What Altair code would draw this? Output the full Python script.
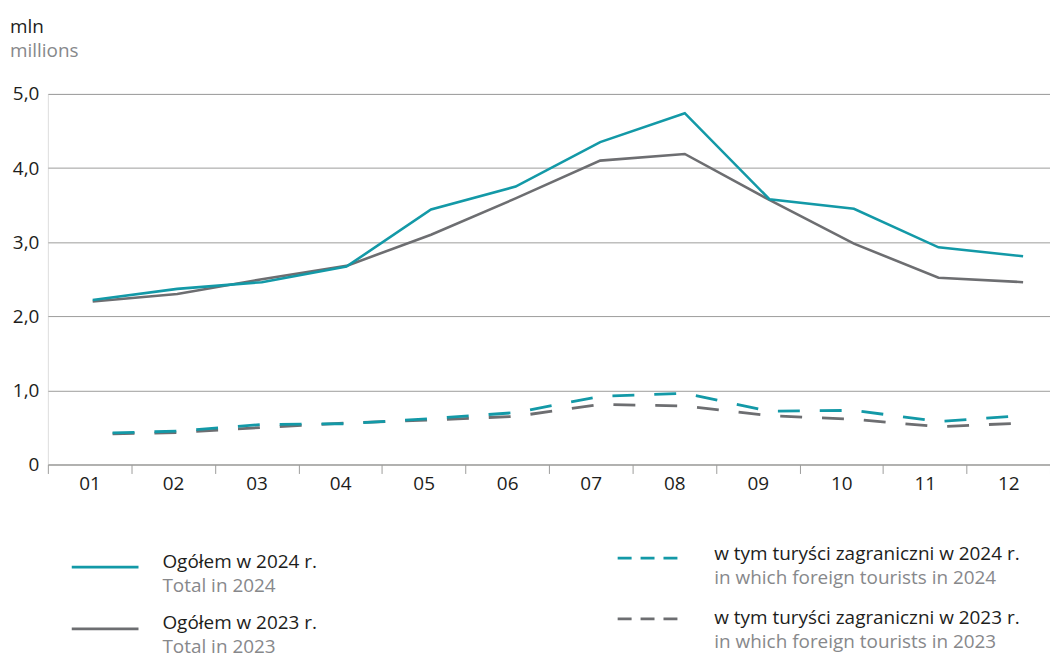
import altair as alt
import pandas as pd

# ---- data ----
months = ["01", "02", "03", "04", "05", "06", "07", "08", "09", "10", "11", "12"]
total_2024 = [2.22, 2.37, 2.46, 2.67, 3.44, 3.75, 4.35, 4.74, 3.58, 3.45, 2.93, 2.81]
total_2023 = [2.20, 2.30, 2.50, 2.68, 3.10, 3.59, 4.10, 4.19, 3.57, 2.98, 2.52, 2.46]
foreign_2024 = [0.42, 0.45, 0.54, 0.55, 0.62, 0.70, 0.92, 0.96, 0.72, 0.73, 0.58, 0.66]
foreign_2023 = [0.41, 0.43, 0.50, 0.56, 0.60, 0.65, 0.81, 0.79, 0.66, 0.61, 0.51, 0.56]
y_ticks = [0, 1, 2, 3, 4, 5]

legend_pl = ["Ogółem w 2024 r.", "Ogółem w 2023 r.",
             "w tym turyści zagraniczni w 2024 r.", "w tym turyści zagraniczni w 2023 r."]
legend_en = ["Total in 2024", "Total in 2023",
             "in which foreign tourists in 2024", "in which foreign tourists in 2023"]
unit_pl = "mln"
unit_en = "millions"

# ---- styling ----
TEAL = "#1399a7"
GREY = "#6d6e71"
BLACK = "#1d1d1b"
TXT_GREY = "#87888b"
GRID = "#9d9d9c"
FONT = "Open Sans"
FS = 19
W, H = 1006, 372

df = pd.DataFrame({
    "month": months,
    "m": [int(x) for x in months],
    "t24": total_2024,
    "t23": total_2023,
    "f24": foreign_2024,
    "f23": foreign_2023,
})

x_line = alt.X("m:Q", scale=alt.Scale(domain=[0.47, 12.318], nice=False, zero=False), axis=None)
y_axis = alt.Axis(
    values=y_ticks, title=None, ticks=False, domain=False, grid=True,
    gridColor=GRID, gridWidth=1, labelPadding=9, labelFontSize=FS, labelFont=FONT,
    labelColor=BLACK,
    labelExpr="datum.value == 0 ? '0' : replace(format(datum.value, '.1f'), '.', ',')",
)


def line_layer(col, color, dashed):
    kw = dict(color=color, strokeWidth=2.6)
    if dashed:
        kw.update(strokeDash=[22, 20], strokeDashOffset=22, strokeWidth=2.8)
    return alt.Chart(df).mark_line(**kw).encode(
        x=x_line,
        y=alt.Y(f"{col}:Q", scale=alt.Scale(domain=[0, 5], nice=False), axis=y_axis),
    )


axis_layer = alt.Chart(pd.DataFrame({"month": months})).mark_point(opacity=0).encode(
    x=alt.X(
        "month:O",
        scale=alt.Scale(type="band", paddingInner=0, paddingOuter=0),
        axis=alt.Axis(
            title=None, labelAngle=0, tickBand="extent", tickSize=9, tickColor=GRID,
            domainColor=GRID, domainWidth=1.2, labelPadding=1, grid=False,
            labelFontSize=FS, labelFont=FONT, labelColor=BLACK,
        ),
    ),
    y=alt.value(H / 2),
)


def text_mark(txt, x, y, color):
    return alt.Chart(pd.DataFrame({"t": [txt]})).mark_text(
        align="left", baseline="alphabetic", font=FONT, fontSize=FS, color=color
    ).encode(text="t:N", x=alt.value(x), y=alt.value(y))


def sample_line(x1, x2, y, color, dashed):
    kw = dict(color=color, strokeWidth=2.6)
    if dashed:
        kw.update(strokeDash=[14, 9])
    return alt.Chart(pd.DataFrame({"a": [0]})).mark_rule(**kw).encode(
        x=alt.value(x1), x2=alt.value(x2), y=alt.value(y)
    )


decor = [
    text_mark(unit_pl, -38, -61, BLACK),
    text_mark(unit_en, -38, -37, TXT_GREY),
    # left legend column
    sample_line(24, 91, 475, TEAL, False),
    text_mark(legend_pl[0], 115, 476, BLACK),
    text_mark(legend_en[0], 115, 500, TXT_GREY),
    sample_line(24, 91, 537, GREY, False),
    text_mark(legend_pl[1], 115, 537, BLACK),
    text_mark(legend_en[1], 115, 561, TXT_GREY),
    # right legend column
    sample_line(572, 640, 466, TEAL, True),
    text_mark(legend_pl[2], 669, 468, BLACK),
    text_mark(legend_en[2], 669, 492, TXT_GREY),
    sample_line(572, 640, 527, GREY, True),
    text_mark(legend_pl[3], 669, 532, BLACK),
    text_mark(legend_en[3], 669, 556, TXT_GREY),
]

chart = alt.layer(
    axis_layer,
    line_layer("f23", GREY, True),
    line_layer("f24", TEAL, True),
    line_layer("t23", GREY, False),
    line_layer("t24", TEAL, False),
    *decor,
).resolve_scale(x="independent").properties(
    width=W, height=H,
    autosize=alt.AutoSizeParams(type="none"),
    padding={"left": 40, "top": 85, "right": 0, "bottom": 196},
).configure_view(stroke=None).configure(background="white")

chart.save("out.html", embed_options={"renderer": "svg", "actions": False})
